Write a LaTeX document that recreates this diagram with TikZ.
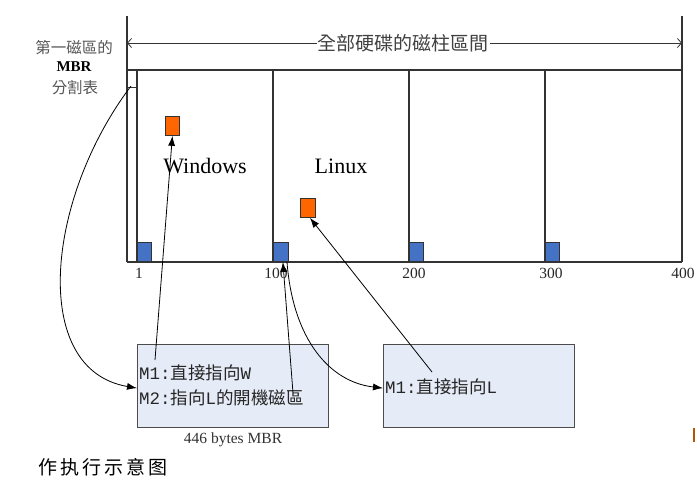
\documentclass[tikz,border=0pt]{standalone}
\usepackage{fontspec}
\setmainfont{Liberation Serif}
\newfontfamily\tcfont{Noto Sans CJK TC}
\newfontfamily\scfont{Noto Sans CJK SC}
\newfontfamily\monof{Liberation Mono}
\usetikzlibrary{arrows.meta}
\definecolor{linegray}{HTML}{333333}
\definecolor{boxfill}{HTML}{E6ECF7}
\definecolor{blueblk}{HTML}{4472C4}
\definecolor{orangeblk}{HTML}{FF6600}
\definecolor{txtgray}{HTML}{555555}
\tikzset{
  frame/.style={draw=linegray, line width=1.2pt},
  bluebox/.style={draw=black!80, fill=blueblk, line width=0.8pt, minimum width=14pt, minimum height=19pt, inner sep=0pt, anchor=south west},
  orangebox/.style={draw=black!80, fill=orangeblk, line width=0.8pt, minimum width=14pt, minimum height=19pt, inner sep=0pt, anchor=north west},
  mbrbox/.style={draw=black!70, fill=boxfill, line width=1.2pt, minimum width=191pt, minimum height=83pt, inner sep=0pt, anchor=north west},
  arr/.style={draw=black, line width=0.8pt, -{Latex[length=10pt,width=7pt]}},
  spanarr/.style={draw=linegray, line width=0.8pt, {Straight Barb[length=4pt,width=9pt]}-{Straight Barb[length=4pt,width=9pt]}},
  axlbl/.style={font=\fontsize{15.5}{16}\selectfont, inner sep=0pt, text=black!85},
  osname/.style={font=\fontsize{22}{24}\selectfont, inner sep=0pt},
  boxtxt/.style={font=\fontsize{17.5}{19}\selectfont, inner sep=0pt, anchor=west, text=black!85},
}
\newcommand{\mono}[1]{{\monof #1}}
\begin{document}
\begin{tikzpicture}[x=1pt,y=-1pt]
\useasboundingbox (0,0) rectangle (697,490);
% frame lines
\draw[frame] (127,16) -- (127,262);
\draw[frame] (682,16) -- (682,262);
\draw[frame] (127,70) -- (682,70);
\draw[frame] (127,262) -- (682,262);
\draw[frame] (137,70) -- (137,262);
\draw[frame] (273,70) -- (273,262);
\draw[frame] (409,70) -- (409,262);
\draw[frame] (545,70) -- (545,262);
\draw[frame, line width=0.8pt] (127,87) -- (137,87);
% span arrow
\coordinate (sl) at (127,43);
\coordinate (sr) at (682,43);
\draw[spanarr] (sl) -- (sr);
\node[fill=white, inner sep=1pt, text=black!75, font=\tcfont\fontsize{19}{21}\selectfont] (span) at (403,43) {全部硬碟的磁柱區間};
% left label
\node[text=txtgray, font=\tcfont\fontsize{15.5}{16}\selectfont, inner sep=0pt] (lab1) at (74,48) {第一磁區的};
\node[font=\bfseries\fontsize{15}{16}\selectfont, inner sep=0pt] (lab2) at (74,67) {MBR};
\node[text=txtgray, font=\tcfont\fontsize{15.5}{16}\selectfont, inner sep=0pt] (lab3) at (75,88) {分割表};
% blocks
\node[bluebox] (b1) at (137,262) {};
\node[bluebox, minimum width=15pt] (b100) at (273,262) {};
\node[bluebox] (b200) at (409,262) {};
\node[bluebox] (b300) at (545,262) {};
\node[orangebox] (ow) at (165,116) {};
\node[orangebox, minimum width=15pt] (ol) at (300,198) {};
% axis labels
\node[axlbl] (a1) at (139,273) {1};
\node[axlbl] (a100) at (276,273) {100};
\node[axlbl] (a200) at (414,273) {200};
\node[axlbl] (a300) at (551,273) {300};
\node[axlbl] (a400) at (683,273) {400};
% os names
\node[osname] (win) at (205,166) {Windows};
\node[osname] (lin) at (341,166) {Linux};
% MBR boxes
\node[mbrbox] (m1) at (137,344) {};
\node[mbrbox] (m2) at (383,344) {};
\node[boxtxt] (t1) at (139,373) {\mono{M1:}{\tcfont 直接指向}\mono{W}};
\node[boxtxt] (t2) at (139,398) {\mono{M2:}{\tcfont 指向}\mono{L}{\tcfont 的開機磁區}};
\node[boxtxt] (t3) at (385,387) {\mono{M1:}{\tcfont 直接指向}\mono{L}};
\node[inner sep=0pt, font=\fontsize{15.5}{17}\selectfont, text=black!80] (cap) at (233,440) {446 bytes MBR};
\node[inner sep=0pt, font=\scfont\fontsize{19}{21}\selectfont] (title) at (103,467) {作\hspace{3pt}执\hspace{3pt}行\hspace{3pt}示\hspace{3pt}意\hspace{3pt}图};
% arrows
\coordinate (s1) at (155,360);
\coordinate (s2) at (293,393);
\coordinate (s3) at (432,372);
\coordinate (s4) at (131,86);
\coordinate (c100) at (287,262);
\draw[arr] (s1) -- (ow.south);
\draw[arr] (s2) -- ([xshift=2pt]b100.south);
\draw[arr] (s3) -- ([xshift=2pt]ol.south);
\draw[arr] (c100) .. controls (293,340) and (330,382) .. ([yshift=-2pt]m2.west);
\draw[arr] (s4) .. controls (45,200) and (30,370) .. ([yshift=-2pt]m1.west);
% small mark at right edge
\fill[orange!70!black] (693,428) rectangle (694.5,442);
\end{tikzpicture}
\end{document}
